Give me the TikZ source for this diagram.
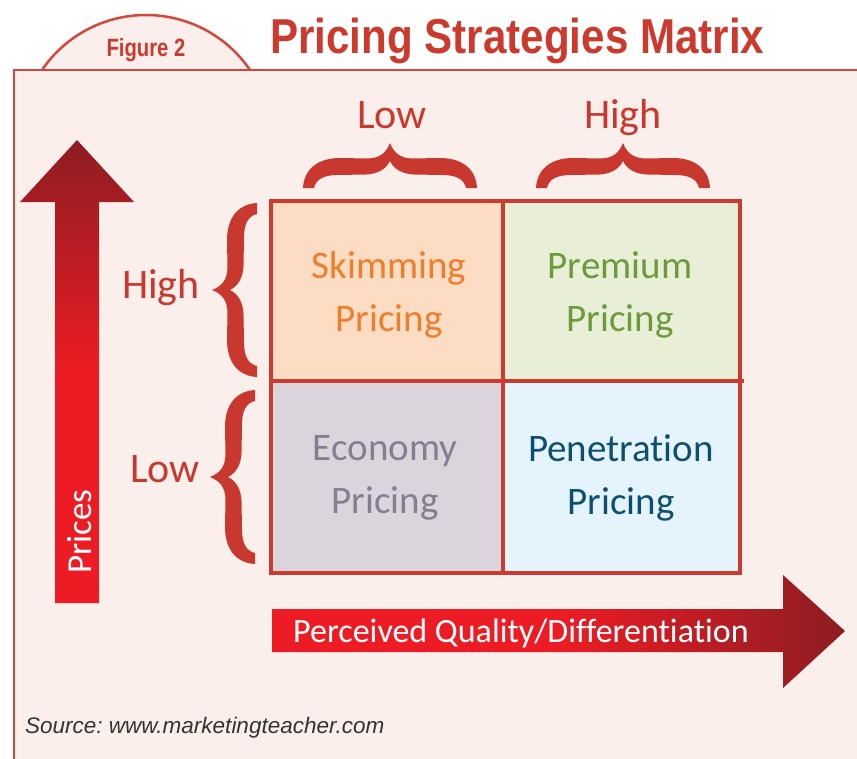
\documentclass[tikz,border=0pt]{standalone}
\usepackage{fontspec}
\setmainfont{Carlito}[Ligatures=NoCommon]
\newfontfamily\headfont{Liberation Sans}
\newfontfamily\notefont{Liberation Sans}
\frenchspacing

\definecolor{pagepink}{HTML}{FBEFEB}
\definecolor{framered}{HTML}{D4473C}
\definecolor{titlered}{HTML}{CC3A2E}
\definecolor{bracered}{HTML}{C9382E}
\definecolor{gridred}{HTML}{CD3A2F}
\definecolor{cellA}{HTML}{FCDCC3}
\definecolor{cellB}{HTML}{E9EFD6}
\definecolor{cellC}{HTML}{DBD4DD}
\definecolor{cellD}{HTML}{E5F4FC}
\definecolor{txtA}{HTML}{F07D2C}
\definecolor{txtB}{HTML}{6B9B3A}
\definecolor{txtC}{HTML}{877C90}
\definecolor{txtD}{HTML}{0D4F6E}
\definecolor{arrowbright}{HTML}{ED1C24}
\definecolor{arrowdark}{HTML}{8C1D22}
\definecolor{srcgray}{HTML}{333333}

\begin{document}
\begin{tikzpicture}[x=1pt,y=-1pt,
  % heavy curly brace, tip at the origin, opening towards +x
  bigbrace/.pic={
    \fill[bracered] (0,0) .. controls (10,-4) and (15,-10) .. (15.5,-22)
      -- (15,-50) .. controls (15,-72) and (26,-86) .. (45,-87)
      -- (45,-76) .. controls (36,-74) and (32,-66) .. (32,-52)
      -- (31.5,-24) .. controls (31,-12) and (26,-4) .. (18,0)
      .. controls (26,4) and (31,12) .. (31.5,24)
      -- (32,52) .. controls (32,66) and (36,74) .. (45,76)
      -- (45,87) .. controls (26,86) and (15,72) .. (15,50)
      -- (15.5,22) .. controls (15,10) and (10,4) .. (0,0) -- cycle;
  },
  cell/.style={rectangle, inner sep=0, align=center,
    font=\fontsize{39}{53}\selectfont},
  celltext/.style={inner sep=0, align=center, font=\fontsize{39}{53}\selectfont},
  lbl/.style={inner sep=0, text=bracered, font=\fontsize{42}{42}\selectfont},
  grid/.style={draw=gridred, line width=4.5pt},
  frame/.style={fill=pagepink, draw=framered, line width=2.5pt},
]
\useasboundingbox (0,0) rectangle (857,758);
\clip (0,0) rectangle (857,758);
\fill[white] (0,0) rectangle (857,758);

% tab and frame
\filldraw[frame] (42,70) .. controls (65.5,35.5) and (104.3,15) .. (146,15)
  .. controls (187.7,15) and (226.5,35.5) .. (250,70);
\filldraw[frame] (14,70) rectangle (880,790);

\node[anchor=base, inner sep=0, text=titlered] (fig) at (146,56)
  {\scalebox{0.81}[1]{\headfont\bfseries\fontsize{25}{25}\selectfont Figure 2}};
\node[anchor=base west, inner sep=0, text=titlered] (title) at (270,53)
  {\scalebox{0.86}[1]{\headfont\bfseries\fontsize{49}{49}\selectfont Pricing Strategies Matrix}};

% axis arrows
\shade[top color=arrowdark, bottom color=arrowbright, middle color=arrowbright]
  (55,603) -- (55,202) -- (20,202) -- (77,140) -- (134,202) -- (99,202) -- (99,603) -- cycle;
\shade[left color=arrowbright, right color=arrowdark, middle color=arrowbright]
  (272,609) -- (783,609) -- (783,575) -- (845,631) -- (783,688) -- (783,652) -- (272,652) -- cycle;
\node[rotate=90, anchor=base west, inner sep=0, text=white,
  font=\fontsize{35}{35}\selectfont] (prices) at (91,574) {Prices};
\node[anchor=base west, inner sep=0, text=white,
  font=\fontsize{34}{34}\selectfont] (quality) at (293,642) {Perceived Quality/Differentiation};

% matrix cells
\node[cell, fill=cellA, minimum width=232pt, minimum height=180pt] (skim) at (387,291) {};
\node[cell, fill=cellB, minimum width=237pt, minimum height=180pt] (prem) at (621.5,291) {};
\node[cell, fill=cellC, minimum width=232pt, minimum height=192pt] (econ) at (387,477) {};
\node[cell, fill=cellD, minimum width=237pt, minimum height=192pt] (pene) at (621.5,477) {};
\node[celltext, text=txtA] (skimtext) at (389,295) {Skimming\\Pricing};
\node[celltext, text=txtB] (premtext) at (620,295) {Premium\\Pricing};
\node[celltext, text=txtC] (econtext) at (385,478) {Economy\\Pricing};
\node[celltext, text=txtD] (penetext) at (621,478) {Penetration\\Pricing};
\draw[grid] (271,201) rectangle (740,573);
\draw[grid] (skim.north east) -- (econ.south east);
\draw[grid] (skim.south west) -- ([xshift=4pt]prem.south east);

% braces and their labels
\pic at (212,290) {bigbrace};
\pic at (210,477) {bigbrace};
\pic[rotate=-90] at (390,143) {bigbrace};
\pic[rotate=-90] at (623,143) {bigbrace};
\node[lbl, anchor=base] (colLow) at (392,128) {Low};
\node[lbl, anchor=base] (colHigh) at (623,128) {High};
\node[lbl, anchor=base east] (rowHigh) at (200,298) {High};
\node[lbl, anchor=base east] (rowLow) at (200,482) {Low};

\node[anchor=base west, inner sep=0, text=srcgray,
  font=\notefont\itshape\fontsize{22.5}{22.5}\selectfont] (source) at (25,733)
  {Source: www.marketingteacher.com};
\end{tikzpicture}
\end{document}
